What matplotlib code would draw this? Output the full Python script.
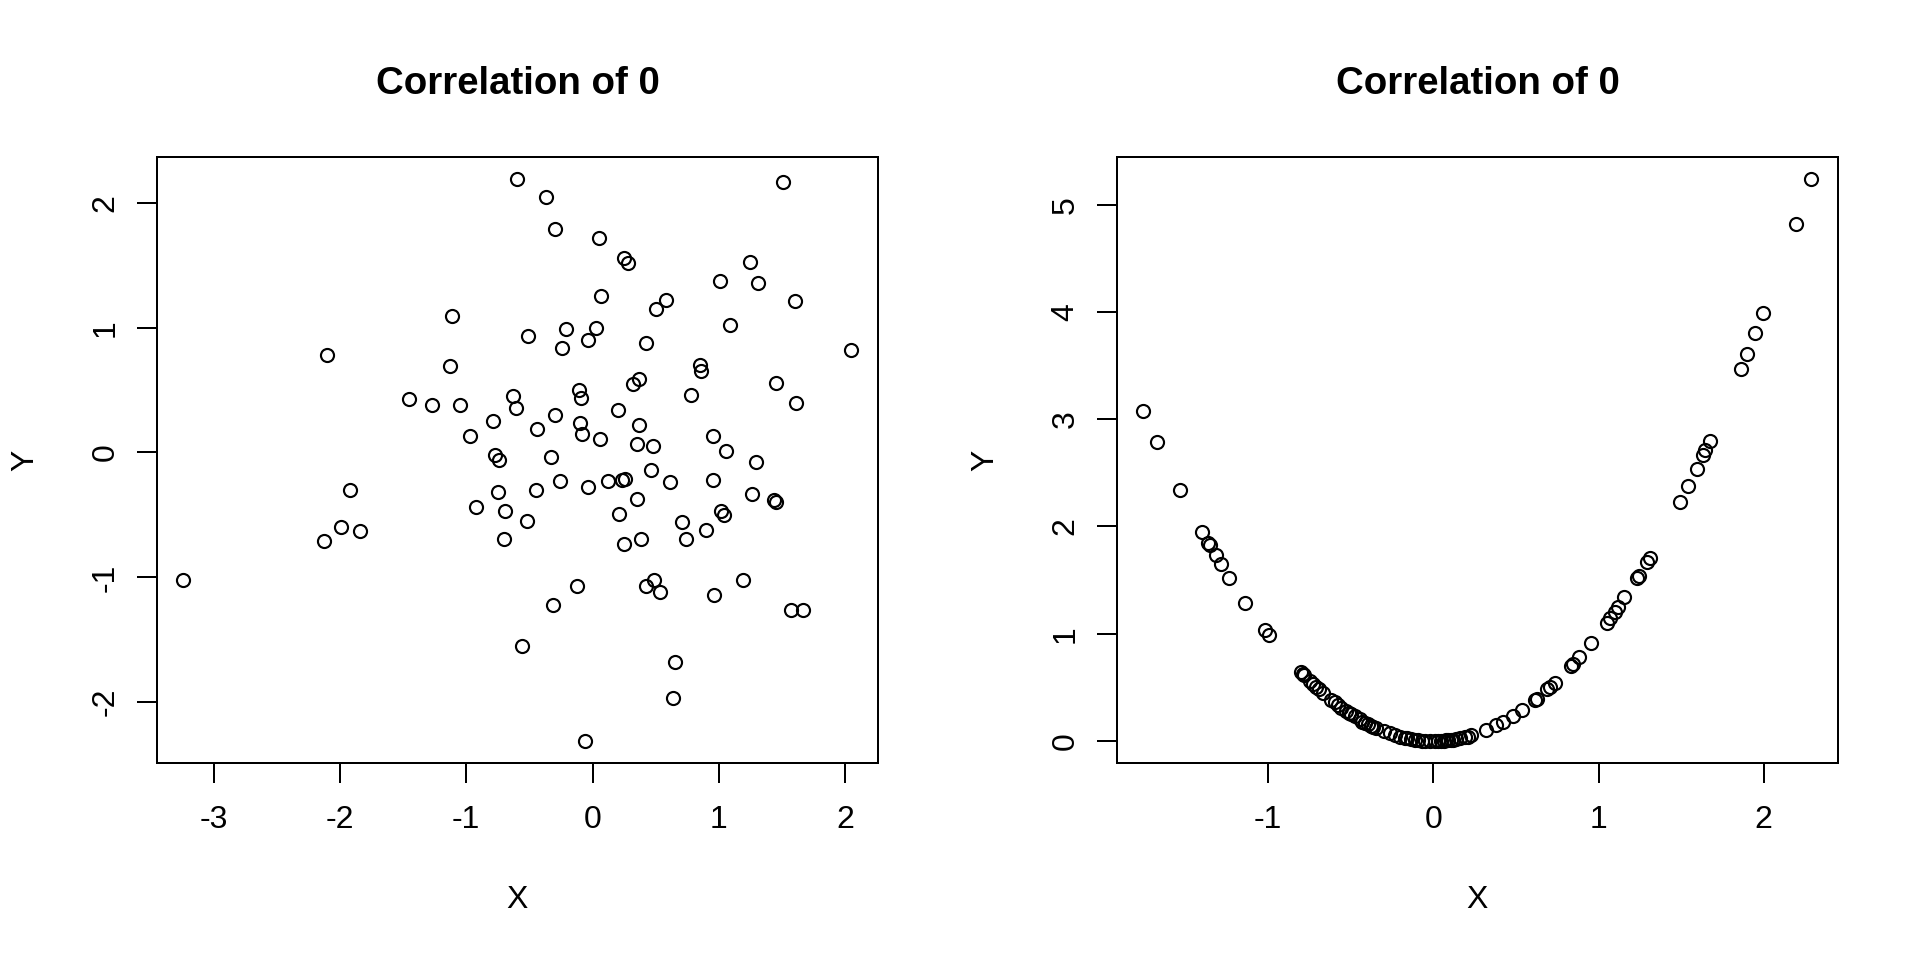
import matplotlib
matplotlib.use("Agg")
import matplotlib.pyplot as plt
import numpy as np

plt.rcParams["font.family"] = ["Liberation Sans", "DejaVu Sans"]

title = "Correlation of 0"

# left panel: uncorrelated cloud
left_x = [-0.60, -0.37, -0.30, 0.05, 0.25, 0.28, 1.51, 1.25, 1.01, 1.31,
          1.60, 0.58, 0.50, 0.07, 1.09, -1.11, -0.51, -0.21, 0.03, -0.04,
          -0.24, 0.42, 2.05, -2.10, -1.13, 0.85, 0.86, 0.37, 0.32, 1.45,
          0.78, 1.61, -1.45, -1.27, -1.05, -0.63, -0.61, -0.11, -0.09, 0.20,
          -0.30, -0.79, -0.44, -0.10, -0.08, 0.37, -0.97, 0.06, 0.35, 0.48,
          0.95, 1.06, -0.77, -0.74, -0.33, 0.46, 1.29, -0.26, 0.12, 0.23,
          0.26, 0.61, 0.95, -1.92, -0.75, -0.45, -0.04, 1.26, 0.35, 1.44,
          1.45, -0.92, -0.69, 0.21, 1.02, 1.04, -0.52, 0.71, -1.99, -1.84,
          -2.13, -0.70, 0.38, 0.25, 0.74, 0.90, -3.24, -0.12, 0.42, 0.49,
          0.53, 0.96, 1.19, -0.31, 1.57, 1.67, -0.56, 0.65, 0.64, -0.06]
left_y = [2.19, 2.05, 1.79, 1.72, 1.56, 1.52, 2.17, 1.53, 1.37, 1.36,
          1.21, 1.22, 1.15, 1.25, 1.02, 1.09, 0.93, 0.99, 1.00, 0.90,
          0.84, 0.88, 0.82, 0.78, 0.69, 0.70, 0.65, 0.59, 0.55, 0.56,
          0.46, 0.40, 0.43, 0.38, 0.38, 0.45, 0.36, 0.50, 0.44, 0.34,
          0.30, 0.25, 0.19, 0.24, 0.15, 0.22, 0.13, 0.11, 0.07, 0.05,
          0.13, 0.01, -0.02, -0.06, -0.04, -0.14, -0.08, -0.23, -0.23, -0.22,
          -0.21, -0.24, -0.22, -0.30, -0.32, -0.30, -0.28, -0.33, -0.37, -0.38,
          -0.40, -0.44, -0.47, -0.49, -0.47, -0.50, -0.55, -0.56, -0.60, -0.63,
          -0.71, -0.69, -0.69, -0.73, -0.69, -0.62, -1.02, -1.07, -1.07, -1.02,
          -1.12, -1.14, -1.02, -1.22, -1.26, -1.26, -1.55, -1.68, -1.97, -2.31]

# right panel: parabola
right_x = [-1.755, -1.670, -1.531, -1.398, -1.361, -1.351, -1.317, -1.283, -1.234, -1.137,
           -1.016, -0.994, -0.80, -0.79, -0.78, -0.748, -0.728, -0.708, -0.69, -0.668,
           -0.62, -0.597, -0.577, -0.557, -0.526, -0.51, -0.496, -0.476, -0.446, -0.43,
           -0.416, -0.395, -0.38, -0.365, -0.345, -0.30, -0.264, -0.234, -0.204, -0.174,
           -0.16, -0.133, -0.11, -0.093, -0.07, -0.053, -0.02, 0.008, 0.03, 0.048,
           0.065, 0.079, 0.088, 0.105, 0.119, 0.14, 0.159, 0.189, 0.21, 0.230,
           0.321, 0.381, 0.421, 0.482, 0.538, 0.615, 0.625, 0.690, 0.708, 0.734,
           0.835, 0.848, 0.881, 0.956, 1.050, 1.071, 1.097, 1.117, 1.157, 1.232,
           1.242, 1.292, 1.309, 1.494, 1.544, 1.595, 1.635, 1.645, 1.672, 1.863,
           1.901, 1.950, 1.998, 2.196, 2.289]
right_y = [3.08, 2.79, 2.34, 1.95, 1.85, 1.83, 1.73, 1.65, 1.52, 1.29,
           1.03, 0.99, 0.64, 0.62, 0.61, 0.56, 0.53, 0.50, 0.48, 0.45,
           0.38, 0.36, 0.33, 0.31, 0.28, 0.26, 0.25, 0.23, 0.20, 0.18,
           0.17, 0.16, 0.14, 0.13, 0.12, 0.09, 0.07, 0.05, 0.04, 0.03,
           0.03, 0.02, 0.01, 0.01, 0.00, 0.00, 0.00, 0.00, 0.00, 0.00,
           0.00, 0.01, 0.01, 0.01, 0.01, 0.02, 0.03, 0.04, 0.04, 0.05,
           0.10, 0.15, 0.18, 0.23, 0.29, 0.38, 0.39, 0.48, 0.50, 0.54,
           0.70, 0.72, 0.78, 0.91, 1.10, 1.15, 1.20, 1.25, 1.34, 1.52,
           1.54, 1.67, 1.71, 2.23, 2.38, 2.54, 2.67, 2.71, 2.80, 3.47,
           3.61, 3.80, 3.99, 4.82, 5.24]

left_xticks = [-3, -2, -1, 0, 1, 2]
left_yticks = [-2, -1, 0, 1, 2]
right_xticks = [-1, 0, 1, 2]
right_yticks = [0, 1, 2, 3, 4, 5]


def r_limits(vals):
    # base R pads the data range by 4% on each side
    lo, hi = min(vals), max(vals)
    pad = 0.04 * (hi - lo)
    return lo - pad, hi + pad


def draw_panel(ax, xs, ys, xticks, yticks):
    ax.plot(xs, ys, linestyle="none", marker="o", markersize=4.9,
            markerfacecolor="none", markeredgecolor="black", markeredgewidth=0.8)
    ax.set_xlim(*r_limits(xs))
    ax.set_ylim(*r_limits(ys))
    ax.set_xticks(xticks)
    ax.set_yticks(yticks)
    ax.set_xticklabels([str(t) for t in xticks])
    ax.set_yticklabels([str(t) for t in yticks], rotation=90, va="center")
    ax.tick_params(direction="out", length=7.5, width=0.75, labelsize=12,
                   top=False, right=False)
    ax.tick_params(axis="x", pad=8)
    ax.tick_params(axis="y", pad=6)
    for sp in ax.spines.values():
        sp.set_linewidth(0.75)
    ax.set_xlabel("X", fontsize=12)
    ax.set_ylabel("Y", fontsize=12)
    ax.xaxis.set_label_coords(0.5, -0.2254)
    ax.xaxis.label.set_va("center")
    ax.yaxis.set_label_coords(-0.1825, 0.5)
    ax.yaxis.label.set_va("center")
    ax.text(0.5, 1.12, title, transform=ax.transAxes, ha="center",
            va="center", fontsize=14.4, fontweight="bold")


fig = plt.figure(figsize=(10, 5), dpi=192)
ax1 = fig.add_axes([0.0816, 0.2049, 0.3758, 0.6319])
ax2 = fig.add_axes([0.5816, 0.2049, 0.3758, 0.6319])

draw_panel(ax1, left_x, left_y, left_xticks, left_yticks)
draw_panel(ax2, right_x, right_y, right_xticks, right_yticks)

fig.savefig("out.png", dpi=192, facecolor="white")
